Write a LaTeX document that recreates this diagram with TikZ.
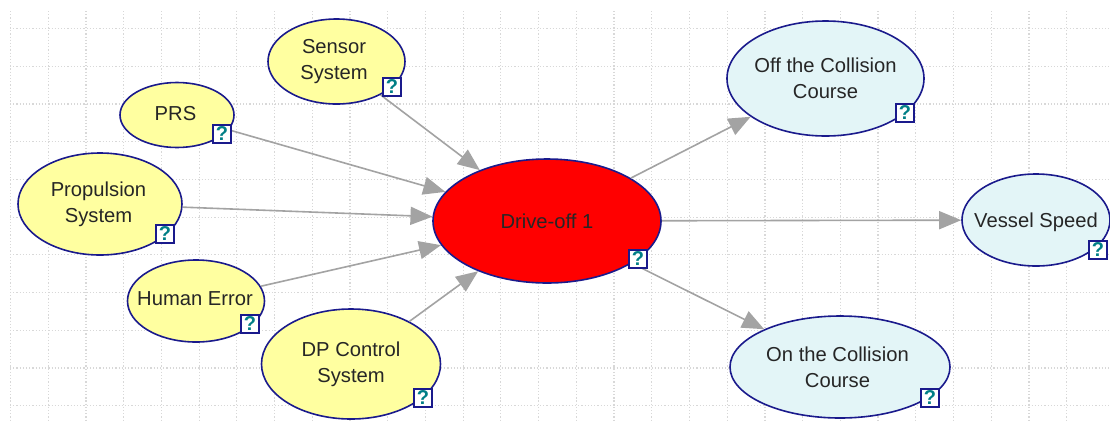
\documentclass[tikz,border=0pt]{standalone}
\usepackage{fontspec}
\setmainfont{Liberation Sans}
\usetikzlibrary{arrows.meta,shapes.geometric,backgrounds}
\definecolor{navyline}{HTML}{1A1A8C}
\definecolor{yellowfill}{HTML}{FFFFA0}
\definecolor{bluefill}{HTML}{E3F5F7}
\definecolor{gridgray}{HTML}{D8D8D8}
\definecolor{edgegray}{HTML}{A3A3A3}
\definecolor{qteal}{HTML}{007F86}
\newcommand{\oneline}[3]{\makebox[0pt]{\hspace*{#1bp}\raisebox{#2bp}[0pt][0pt]{#3}}}
\tikzset{
  x=1bp,y=-1bp,
  bn/.style={ellipse,draw=navyline,line width=1.6bp,inner sep=0pt,align=center,
    font=\fontsize{20.2bp}{26bp}\selectfont,text=black!85},
  yellownode/.style={bn,fill=yellowfill},
  bluenode/.style={bn,fill=bluefill},
  rednode/.style={bn,fill=red},
  qbox/.style={rectangle,draw=navyline,fill=white,line width=1.6bp,minimum size=18bp,inner sep=0pt,
    text=qteal,font=\fontsize{20bp}{20bp}\selectfont\bfseries},
  link/.style={draw=edgegray,line width=1.6bp,-{Triangle[length=22bp,width=18bp,fill=edgegray]}},
  gridline/.style={draw=gridgray,line width=1.2bp,dotted}
}
\begin{document}
\begin{tikzpicture}
\useasboundingbox[fill=white] (0,0) rectangle (1110,422);
\foreach \k in {0,...,28}{\draw[gridline] ({10.5+37.72*\k},11) -- ({10.5+37.72*\k},420);}
\foreach \k in {0,...,10}{\draw[gridline] (10,{28.5+37.72*\k}) -- (1110,{28.5+37.72*\k});}

\node[yellownode,minimum width=137bp,minimum height=85bp] (sensor) at (336.5,61.5) {Sensor\hspace*{5bp}\\System\hspace*{5bp}};
\node[yellownode,minimum width=114bp,minimum height=65bp] (prs) at (177,115) {\oneline{-3}{-5}{PRS}};
\node[yellownode,minimum width=164bp,minimum height=102bp] (prop) at (100,204) {Propulsion\hspace*{3bp}\\System\hspace*{3bp}};
\node[yellownode,minimum width=137bp,minimum height=82bp] (human) at (196,301) {\oneline{-2}{-4}{Human Error}};
\node[yellownode,minimum width=179bp,minimum height=110bp] (dp) at (351,364) {DP Control\\System};
\node[rednode,minimum width=228bp,minimum height=124bp] (drive) at (547,221) {\oneline{0}{-7}{Drive-off 1}};
\node[bluenode,minimum width=197bp,minimum height=115bp] (off) at (825.5,78.5) {\makebox[0pt]{Off the Collision}\\\makebox[0pt]{Course}};
\node[bluenode,minimum width=148bp,minimum height=92bp] (speed) at (1036,220) {\oneline{0}{-7}{Vessel Speed}};
\node[bluenode,minimum width=220bp,minimum height=102bp] (on) at (840,367) {On the Collision\hspace*{5bp}\\Course\hspace*{5bp}};

\draw[link] (sensor) -- (drive);
\draw[link] (prs) -- (drive);
\draw[link] (prop) -- (drive);
\draw[link] (human) -- (drive);
\draw[link] (dp) -- (drive);
\draw[link] (drive) -- (off);
\draw[link] (drive) -- (speed);
\draw[link] (drive) -- (on);

\node[qbox] (q1) at (392,87) {?};
\node[qbox] (q2) at (222,134) {?};
\node[qbox] (q3) at (165,234) {?};
\node[qbox] (q4) at (250,324) {?};
\node[qbox] (q5) at (423,398) {?};
\node[qbox] (q6) at (638,259) {?};
\node[qbox] (q7) at (905,113) {?};
\node[qbox] (q8) at (1098,250) {?};
\node[qbox] (q9) at (930,398) {?};
\end{tikzpicture}
\end{document}
